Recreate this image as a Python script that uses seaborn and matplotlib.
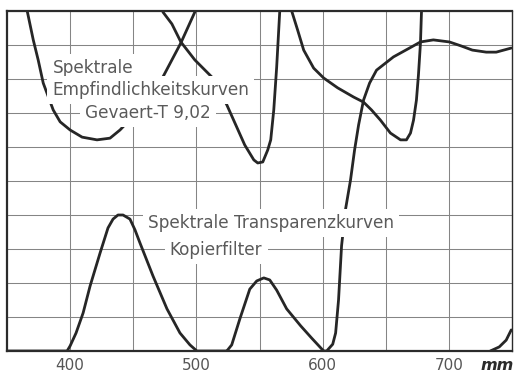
import matplotlib
matplotlib.use("Agg")
import matplotlib.pyplot as plt
import seaborn as sns
import pandas as pd
from matplotlib.ticker import FixedLocator

# ---------------- data ----------------
# wavelength axis
tick_values = [400, 500, 600, 700]
tick_labels = ["400", "500", "600", "700"]
grid_minor = [450, 550, 650]
unit_label = "mm"

# spectral sensitivity curves (Gevaert-T 9,02)
sens1_x = [366.0, 370.8, 374.7, 378.7, 386.6, 392.1, 400.0, 409.5, 421.3, 431.6, 439.5,
           455.0, 473.5, 480.6, 487.7, 498.8]
sens1_y = [10.0, 9.15, 8.56, 7.88, 7.09, 6.74, 6.50, 6.29, 6.21, 6.26, 6.50,
           7.10, 8.06, 8.56, 9.06, 9.97]

sens2_x = [473.5, 480.6, 487.7, 498.8, 513.0, 524.1, 531.2, 538.3, 545.5, 548.6,
           552.6, 556.5, 558.9, 561.3, 563.6, 566.0]
sens2_y = [9.97, 9.62, 9.09, 8.56, 8.03, 7.24, 6.65, 6.06, 5.62, 5.53,
           5.56, 5.91, 6.21, 7.09, 8.35, 9.97]

sens3_x = [575.5, 580.2, 585.0, 592.9, 600.8, 611.9, 624.5, 632.4, 638.7, 645.8,
           653.7, 661.7, 666.4, 669.6, 672.0, 674.3, 675.9, 677.5, 678.3]
sens3_y = [10.0, 9.44, 8.85, 8.32, 8.03, 7.74, 7.47, 7.32, 7.09, 6.79,
           6.41, 6.21, 6.21, 6.41, 6.79, 7.38, 8.12, 9.06, 9.97]

# spectral transparency curves (copy filters)
trans1_x = [350.2, 397.6, 400.0, 404.7, 410.3, 415.8, 423.7, 430.0, 434.0, 437.9, 441.9,
            447.4, 451.4, 455.3, 465.6, 476.7, 487.0, 494.9, 500.4, 524.1]
trans1_y = [0.0, 0.0, 0.15, 0.53, 1.12, 1.91, 2.88, 3.62, 3.88, 4.0, 4.0,
            3.88, 3.56, 3.18, 2.21, 1.24, 0.53, 0.18, 0.0, 0.0]

trans2_x = [524.1, 528.0, 534.4, 542.3, 547.8, 553.4, 558.1, 563.6, 571.5, 582.6, 591.3, 600.8]
trans2_y = [0.0, 0.18, 0.94, 1.82, 2.06, 2.15, 2.09, 1.79, 1.24, 0.74, 0.38, 0.0]

trans3_x = [600.8, 603.2, 608.0, 610.3, 612.6, 615.0, 618.2, 622.1, 625.3, 628.5, 632.4,
            637.2, 642.7, 656.1, 668.8, 677.5, 687.7, 700.4, 709.9, 718.6, 729.6,
            737.5, 749.4]
trans3_y = [0.0, 0.0, 0.2, 0.53, 1.5, 3.09, 4.18, 5.03, 5.91, 6.65, 7.38,
            7.88, 8.26, 8.65, 8.91, 9.09, 9.15, 9.09, 8.97, 8.85, 8.79,
            8.79, 8.91]

trans4_x = [732.8, 739.9, 745.4, 749.4]
trans4_y = [0.0, 0.12, 0.32, 0.62]

labels_sens = ["Spektrale", "Empfindlichkeitskurven", "Gevaert-T 9,02"]
labels_trans = ["Spektrale Transparenzkurven", "Kopierfilter"]

# ---------------- figure ----------------
sns.set_theme(style="white")
plt.rcParams["font.family"] = ["DejaVu Sans", "Liberation Sans"]

fig = plt.figure(figsize=(5.14, 3.76), dpi=100)
W, H = 514, 376
ax = fig.add_axes([7 / W, (H - 351) / H, (512 - 7) / W, (351 - 11) / H])

curve_color = "#262626"
curves = [
    (sens1_x, sens1_y), (sens2_x, sens2_y), (sens3_x, sens3_y),
    (trans1_x, trans1_y), (trans2_x, trans2_y), (trans3_x, trans3_y), (trans4_x, trans4_y),
]
for cx, cy in curves:
    df = pd.DataFrame({"nm": cx, "v": cy})
    sns.lineplot(data=df, x="nm", y="v", ax=ax, sort=False, estimator=None,
                 color=curve_color, linewidth=2.0, solid_capstyle="round", zorder=2)

ax.set_xlim(350, 750)
ax.set_ylim(0, 10)
ax.xaxis.set_major_locator(FixedLocator(tick_values))
ax.set_xticklabels(tick_labels)
ax.xaxis.set_minor_locator(FixedLocator(grid_minor))
ax.set_yticks(range(0, 11))
ax.set_yticklabels([])
ax.grid(True, which="both", color="#858585", linewidth=0.75)
ax.tick_params(axis="both", which="both", length=0)
ax.tick_params(axis="x", pad=5, labelsize=11, labelcolor="#555555")
ax.set_xlabel("")
ax.set_ylabel("")
for s in ax.spines.values():
    s.set_color("#2b2b2b")
    s.set_linewidth(1.6)
ax.spines["right"].set_linewidth(1.0)

ax.text(0.970, -0.044, unit_label, transform=ax.transAxes, ha="center", va="center",
        fontsize=11.5, style="italic", weight="bold", color="#2b2b2b")

box = dict(boxstyle="square,pad=0.3", facecolor="white", edgecolor="none")
tkw = dict(fontsize=12.2, color="#5a5a5a", ha="left", va="center", zorder=5, bbox=box)
ax.text(386.6, 8.32, labels_sens[0], **tkw)
ax.text(385.8, 7.68, labels_sens[1], **tkw)
ax.text(411.9, 7.00, labels_sens[2], **tkw)
ax.text(461.7, 3.76, labels_trans[0], **tkw)
ax.text(479.0, 2.97, labels_trans[1], **tkw)

fig.savefig("out.png", dpi=100)
